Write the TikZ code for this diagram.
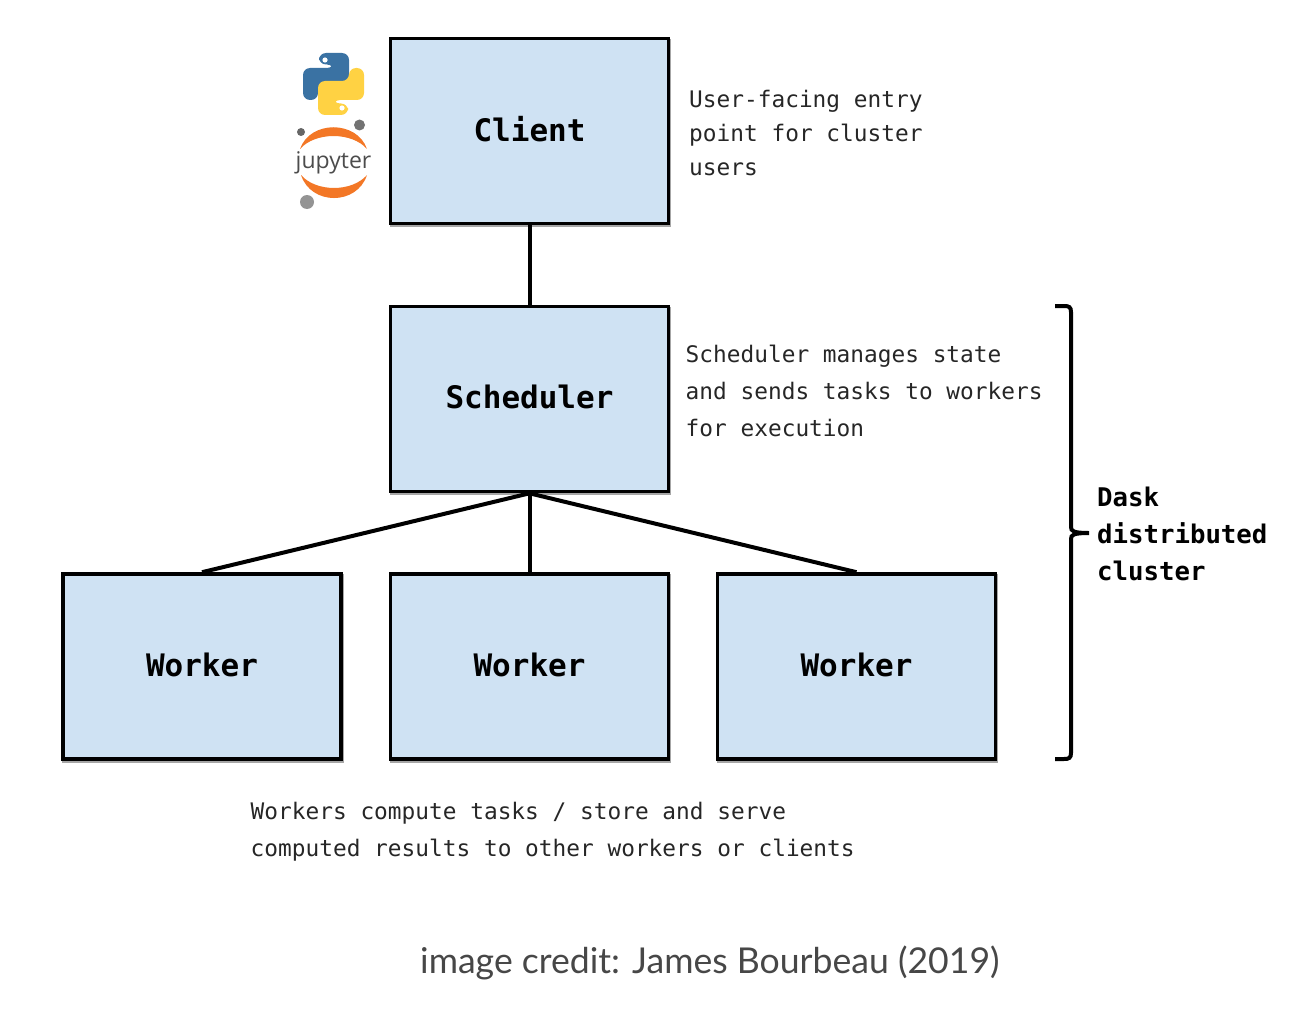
\documentclass[tikz,border=0pt]{standalone}
\usepackage{fontspec}
\setmonofont{DejaVu Sans Mono}
\newfontfamily\credfont{Lato}
\newfontfamily\jupfont{Open Sans}
\definecolor{boxfill}{HTML}{CFE2F3}
\definecolor{pyblue}{HTML}{3A72A3}
\definecolor{pyyellow}{HTML}{FFD243}
\definecolor{juporange}{HTML}{F37726}
\tikzset{
  boxnode/.style={draw=black,fill=boxfill,line width=3.6pt,minimum width=278pt,minimum height=185pt,inner sep=0pt,text depth=4.5pt,
    font=\ttfamily\bfseries\fontsize{31}{37}\selectfont,
    preaction={draw=black!35,line width=3.6pt,transform canvas={xshift=1pt,yshift=-2pt}}},
  link/.style={line width=4pt,black},
  note/.style={anchor=north west,inner sep=0pt,align=left,font=\ttfamily\fontsize{22.8}{37}\selectfont,text=black!85},
  boldnote/.style={anchor=north west,inner sep=0pt,align=left,font=\ttfamily\bfseries\fontsize{25.7}{37}\selectfont},
}
\begin{document}
\begin{tikzpicture}[x=1pt,y=-1pt]
\useasboundingbox (0,0) rectangle (1290,1030);
% boxes
\node[boxnode] (client) at (529.5,131) {Client};
\node[boxnode] (scheduler) at (529.5,399) {Scheduler};
\node[boxnode] (w1) at (202,666.5) {Worker};
\node[boxnode] (w2) at (529.5,666.5) {Worker};
\node[boxnode] (w3) at (856.5,666.5) {Worker};
% connectors
\draw[link] (client.south) -- (scheduler.north);
\draw[link] (scheduler.south) -- (w1.north);
\draw[link] (scheduler.south) -- (w2.north);
\draw[link] (scheduler.south) -- (w3.north);
% bracket
\coordinate (brtop) at (1055,306);
\coordinate (brbot) at (1055,759);
\coordinate (brtip) at (1089,533);
\draw[line width=4pt] (brtop) -- (1064,306) .. controls (1069,306) and (1071,307) .. (1071,312)
  -- (1071,527) .. controls (1071,531) and (1073,533) .. (brtip)
  .. controls (1073,533) and (1071,535) .. (1071,539)
  -- (1071,753) .. controls (1071,758) and (1069,759) .. (1064,759) -- (brbot);
% notes
\node[note,font=\ttfamily\fontsize{22.8}{34}\selectfont] (n1) at (689,90) {User-facing entry\\point for cluster\\users};
\node[note] (n2) at (685.5,345) {Scheduler manages state\\and sends tasks to workers\\for execution};
\node[note] (n3) at (250.5,802) {Workers compute tasks / store and serve\\computed results to other workers or clients};
\node[boldnote] (n4) at (1097,487) {Dask\\distributed\\cluster};
\node[anchor=base west,inner sep=0pt,text=black!72,font=\credfont\fontsize{35.6}{40}\selectfont] (credit) at (420,973) {image credit: James Bourbeau (2019)};
% python logo
\fill[pyblue,rounded corners=7pt] (319,53) -- (349,53) -- (349,87) -- (318,87) -- (318,100) -- (303,100) -- (303,68) -- (334,68) -- (334,64.5) -- (319,64.5) -- cycle;
\fill[pyyellow,rounded corners=7pt] (348,115) -- (318,115) -- (318,81) -- (349,81) -- (349,68) -- (364,68) -- (364,100) -- (333,100) -- (333,103.5) -- (348,103.5) -- cycle;
\fill[white] (325,60) circle (2.6pt) (342,108) circle (2.6pt);
% jupyter logo
\fill[juporange] (300,149) .. controls (310,120) and (357,120) .. (367,149) .. controls (352,131.7) and (315,131.7) .. cycle;
\fill[juporange] (301,175) .. controls (311,205.7) and (357,205.7) .. (367,175) .. controls (352,192.3) and (316,192.3) .. cycle;
\fill[black!60] (301,132) circle (4pt);
\fill[black!55] (359.5,125) circle (5.5pt);
\fill[black!42] (307,202) circle (7pt);
\node[anchor=base,inner sep=0pt,text=black!70,font=\jupfont\fontsize{23}{26}\selectfont] (jup) at (333.5,168) {jupyter};
\end{tikzpicture}
\end{document}
